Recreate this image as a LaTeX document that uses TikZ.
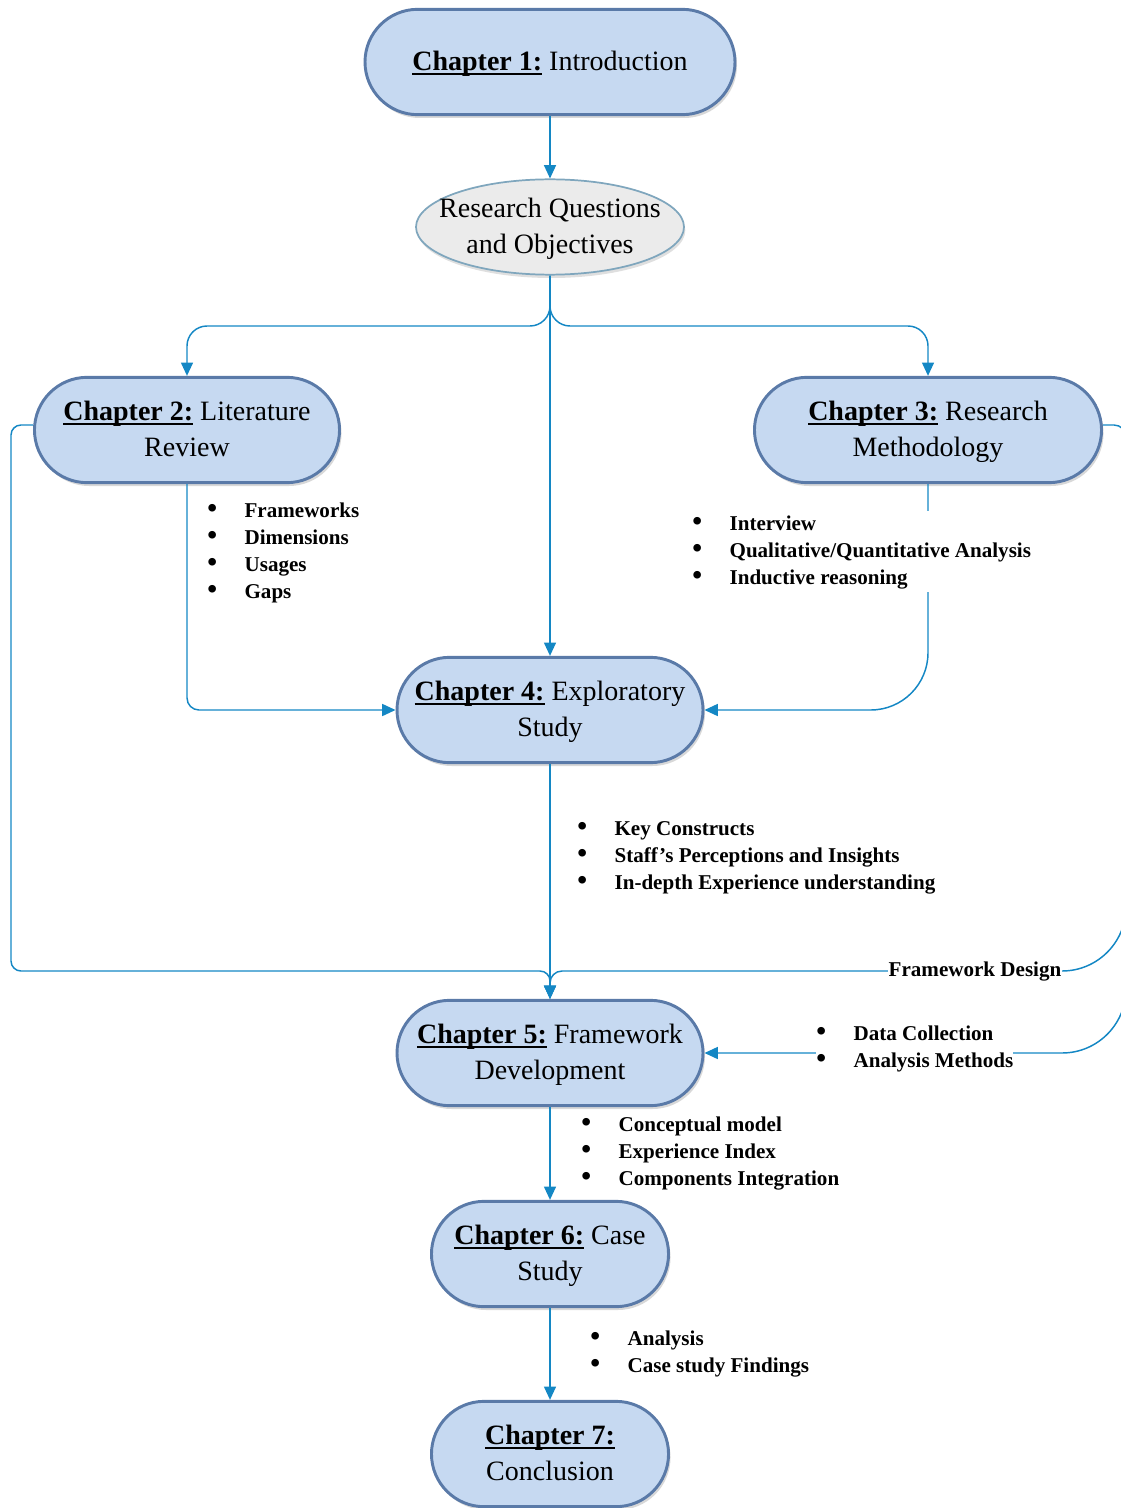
\documentclass[tikz,border=0pt]{standalone}
\usepackage{fontspec}
\setmainfont{Liberation Serif}
\usetikzlibrary{shapes.geometric,arrows.meta,shadows}

\definecolor{chapfill}{HTML}{C6D9F1}
\definecolor{chapedge}{HTML}{5A7AA8}
\definecolor{rqfill}{HTML}{EBEBEB}
\definecolor{rqedge}{HTML}{7FA6BD}
\definecolor{linkblue}{HTML}{1487C4}

\tikzset{
  x=0.75pt, y=-0.75pt,
  chapter/.style={draw=chapedge, line width=2.2pt, fill=chapfill,
    rounded corners=39.5pt, minimum height=79pt, inner sep=0pt,
    align=center, font=\fontsize{21}{27}\selectfont,
    drop shadow={shadow xshift=1.5pt, shadow yshift=-2.5pt, fill=black!30}},
  goals/.style={ellipse, draw=rqedge, line width=1.3pt, fill=rqfill,
    minimum width=201pt, minimum height=71.5pt, inner xsep=-16pt, inner ysep=-8pt,
    align=center, font=\fontsize{21}{27}\selectfont,
    drop shadow={shadow xshift=1pt, shadow yshift=-2.5pt, fill=black!25}},
  bulletlist/.style={anchor=base west, inner sep=0pt, fill=white,
    font=\fontsize{15.8}{20.25}\bfseries\selectfont},
  tag/.style={inner sep=0.5pt, fill=white, font=\fontsize{15.8}{20.25}\bfseries\selectfont},
  link/.style={draw=linkblue, line width=1.1pt},
  arrowlink/.style={link, -{Triangle[length=10pt,width=9pt]}},
}

% uniform line box for the two-line labels
\newcommand{\ls}{\rule[-7.1pt]{0pt}{27pt}}
% bold chapter label with a heavier underline
\newcommand{\heavyul}[1]{\setbox0\hbox{#1}\rlap{\rule[-3.2pt]{\wd0}{1.1pt}}\box0\relax}
\newcommand{\chap}[1]{\ls\heavyul{\textbf{Chapter #1:}}}
\newcommand{\pt}{{\fontsize{21}{20.25}\selectfont\textbullet}}
\newenvironment{pointlist}{\begin{tabular}[t]{@{}p{28pt}@{}l@{}}}{\end{tabular}}

\begin{document}
\begin{tikzpicture}
\useasboundingbox (0,0) rectangle (1120,1508);

% chapters and the central question
\node[chapter, minimum width=277.5pt] (c1) at (550,62) {\chap{1} Introduction};
\node[goals] (rq) at (550,227) {\ls Research Questions\\\ls and Objectives};
\node[chapter, minimum width=228.8pt] (c2) at (187,430) {\chap{2} Literature\\\ls Review};
\node[chapter, minimum width=260.3pt] (c3) at (928,430) {\chap{3} Research\\\ls Methodology};
\node[chapter, minimum width=229.5pt] (c4) at (550,710) {\chap{4} Exploratory\\\ls Study};
\node[chapter, minimum width=229.5pt] (c5) at (550,1053) {\chap{5} Framework\\\ls Development};
\node[chapter, minimum width=177.8pt] (c6) at (550,1254) {\chap{6} Case\\\ls Study};
\node[chapter, minimum width=177.8pt] (c7) at (550,1454) {\chap{7}\\\ls Conclusion};

% routing points
\coordinate (split) at (550,326);
\coordinate (ltop) at (11,425);
\coordinate (lbot) at (11,971);
\coordinate (rtop) at (1126,425);
\coordinate (rmid) at (1126,971);
\coordinate (rbranch) at (1126,880);
\coordinate (rbot) at (1126,1053);

% connectors
\draw[arrowlink] (c1.south) -- (rq.north);
\draw[arrowlink, rounded corners=15pt] (rq.south) -- (split) -| (c2.north);
\draw[arrowlink, rounded corners=15pt] (rq.south) -- (split) -| (c3.north);
\draw[arrowlink] (rq.south) -- (c4.north);
\draw[arrowlink, rounded corners=9pt] (c2.south) |- (c4.west);
\draw[arrowlink, rounded corners=43pt] (c3.south) |- (c4.east);
\draw[arrowlink] (c4.south) -- (c5.north);
\draw[arrowlink, rounded corners=7.5pt] (c2.west |- ltop) -- (ltop) -- (lbot) -| (c5.north);
\draw[arrowlink, rounded corners=9pt] (c3.east |- rtop) -- (rtop) [rounded corners=48pt] -- (rmid) [rounded corners=9pt] -| (c5.north);
\draw[arrowlink, rounded corners=48pt] (rbranch) -- (rbot) -- (c5.east);
\draw[arrowlink] (c5.south) -- (c6.north);
\draw[arrowlink] (c6.south) -- (c7.north);

% point lists
\node[bulletlist] (l2) at (207,517) {\begin{pointlist}
  \pt & Frameworks\\ \pt & Dimensions\\ \pt & Usages\\ \pt & Gaps
\end{pointlist}};
\node[bulletlist] (l3) at (692,530) {\begin{pointlist}
  \pt & Interview\\ \pt & Qualitative/Quantitative Analysis\\ \pt & Inductive reasoning
\end{pointlist}};
\node[bulletlist] (l4) at (577,835) {\begin{pointlist}
  \pt & Key Constructs\\ \pt & Staff’s Perceptions and Insights\\ \pt & In-depth Experience understanding
\end{pointlist}};
\node[tag] (fd) at (975,972) {Framework Design};
\node[bulletlist] (l5r) at (816,1040) {\begin{pointlist}
  \pt & Data Collection\\ \pt & Analysis Methods
\end{pointlist}};
\node[bulletlist] (l5b) at (581,1131) {\begin{pointlist}
  \pt & Conceptual model\\ \pt & Experience Index\\ \pt & Components Integration
\end{pointlist}};
\node[bulletlist] (l6) at (590,1345) {\begin{pointlist}
  \pt & Analysis\\ \pt & Case study Findings
\end{pointlist}};
\end{tikzpicture}
\end{document}
